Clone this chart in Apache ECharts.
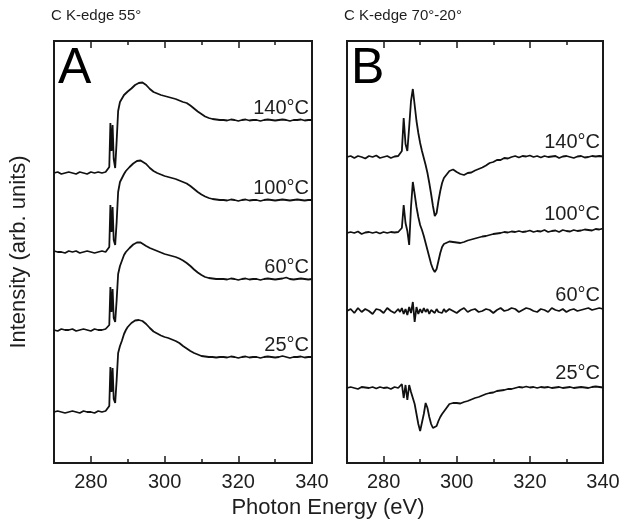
<!DOCTYPE html>
<html><head><meta charset="utf-8">
<script src="https://cdn.jsdelivr.net/npm/echarts@6/dist/echarts.min.js"></script>
<style>html,body{margin:0;padding:0;background:#fff}#c{width:623px;height:523px}</style>
</head><body><div id="c"></div>
<script>
// ---------- DATA ----------
const temps = ['140°C', '100°C', '60°C', '25°C'];
const panelTitles = ['C K-edge 55°', 'C K-edge 70°-20°'];
const panelLetters = ['A', 'B'];
const majorTicks = [280, 300, 320, 340];
const minorTicks = [290, 310, 330];

// Panel A (C K-edge 55°), photon energy (eV)
const energyA = [270,271,272,273,274,275,276,277,278,279,280,281,282,283,284,
  284.5,285.0,285.3,285.6,285.9,286.2,286.6,287.0,287.4,287.9,288.4,
  289,289.5,290,290.5,291,291.5,292,292.5,293,293.5,294,
  295,296,297,298,299,300,301,302,303,304,305,306,307,308,309,310,311,312,313,314,315,
  316,317,318,319,320,321,322,323,324,325,326,327,328,329,330,331,332,333,334,335,336,337,338,339,340];
// intensities relative to each spectrum's own pre-edge (arb. units)
const a140 = [0.0,0.1,-0.1,0.0,0.1,0.0,-0.1,0.1,0.0,-0.1,0.1,0.0,0.1,0.0,0.1,
  0.2,0.6,5.0,2.2,4.8,1.4,0.5,3.2,6.2,7.1,7.3,
  7.8,8.0,8.15,8.3,8.45,8.6,8.8,8.9,9.0,9.1,9.05,
  8.8,8.4,8.1,7.95,7.8,7.7,7.6,7.5,7.4,7.25,7.1,7.0,6.75,6.45,6.15,5.9,5.65,5.5,5.4,5.35,5.3,
  5.3,5.25,5.35,5.3,5.2,5.3,5.35,5.25,5.3,5.3,5.2,5.3,5.35,5.3,5.25,5.3,5.35,5.3,5.2,5.3,5.3,5.35,5.25,5.3,5.3];
const a100 = [0.1,0.0,0.0,-0.1,0.1,0.0,0.1,-0.1,0.0,0.1,0.0,-0.1,0.0,0.1,0.0,
  0.1,0.5,4.7,2.0,4.5,1.2,0.7,3.0,6.0,7.0,7.2,
  7.8,8.1,8.3,8.5,8.7,8.85,9.0,9.1,9.2,9.15,9.0,
  8.8,8.4,8.1,7.9,7.75,7.6,7.5,7.4,7.3,7.15,7.0,6.85,6.6,6.3,6.0,5.75,5.55,5.4,5.3,5.25,5.2,
  5.2,5.15,5.25,5.2,5.1,5.2,5.25,5.15,5.2,5.2,5.1,5.2,5.25,5.2,5.15,5.2,5.25,5.2,5.15,5.2,5.25,5.2,5.15,5.2,5.2];
const a60 = [0.0,-0.1,0.1,0.0,0.0,0.1,-0.1,0.0,0.1,0.0,-0.1,0.1,0.0,0.0,0.1,
  0.1,0.5,4.3,1.8,4.1,1.2,0.8,3.0,5.6,6.4,6.9,
  7.5,7.8,8.0,8.2,8.4,8.55,8.7,8.75,8.8,8.75,8.6,
  8.4,8.2,8.05,7.9,7.75,7.6,7.5,7.4,7.3,7.15,6.95,6.7,6.4,6.05,5.75,5.5,5.3,5.2,5.15,5.1,5.1,
  5.1,5.05,5.15,5.1,5.0,5.1,5.15,5.05,5.1,5.1,5.0,5.1,5.15,5.1,5.05,5.1,5.15,5.25,5.1,5.05,5.1,5.15,5.1,5.05,5.1];
const a25 = [0.0,0.1,0.0,-0.1,0.0,0.1,0.0,-0.1,0.1,0.0,0.0,-0.1,0.1,0.0,0.1,
  0.2,0.6,4.5,2.0,4.4,1.3,0.9,3.2,5.9,6.6,7.1,
  7.8,8.2,8.5,8.7,8.9,9.05,9.15,9.2,9.2,9.2,9.1,
  8.8,8.4,8.05,7.85,7.65,7.5,7.4,7.25,7.1,6.9,6.6,6.35,6.1,5.9,5.75,5.6,5.55,5.5,5.5,5.45,5.5,
  5.5,5.45,5.55,5.5,5.4,5.5,5.55,5.45,5.5,5.5,5.4,5.5,5.55,5.5,5.45,5.5,5.6,5.5,5.4,5.5,5.5,5.55,5.45,5.5,5.5];
const stackOffsetA = [29.0, 21.1, 13.3, 5.1];

// Panel B (C K-edge 70°-20° difference)
const energyB = [270,271,272,273,274,275,276,277,278,279,280,281,282,283,284,
  284.5,285.0,285.5,286.0,286.5,287.0,287.5,288.0,288.5,289,289.5,290,290.5,291,291.5,292,292.5,293,293.5,294,294.5,295,295.5,296,296.5,
  297,298,299,300,301,302,303,304,305,306,307,308,309,310,311,312,313,314,315,316,317,318,319,320,
  321,322,323,324,325,326,327,328,329,330,331,332,333,334,335,336,337,338,339,340];
const b140 = [0.0,0.1,-0.1,0.1,0.0,-0.15,0.1,0.0,0.15,-0.1,0.0,0.1,-0.1,0.05,0.1,
  0.2,0.6,3.9,1.3,0.6,3.0,5.6,6.8,5.2,3.6,2.4,1.4,0.6,-0.1,-0.8,-1.6,-2.6,-3.7,-4.9,-5.9,-5.6,-4.4,-3.4,-2.6,-2.1,
  -1.9,-1.4,-1.25,-1.5,-1.7,-1.8,-1.6,-1.55,-1.35,-1.2,-1.05,-0.85,-0.6,-0.5,-0.3,-0.3,-0.1,-0.15,0.0,0.1,-0.05,0.1,0.05,0.15,
  0.0,0.1,-0.05,0.1,0.0,0.05,0.1,-0.1,0.05,0.1,0.0,-0.1,0.05,0.1,-0.05,0.0,0.1,0.05,0.1,0.05];
const b100 = [0.0,0.1,0.0,0.15,-0.1,0.05,0.1,0.0,0.1,-0.05,0.1,0.0,0.1,0.05,0.1,
  0.1,0.5,2.8,1.0,0.2,-1.2,2.6,5.1,3.9,2.6,1.6,0.8,0.3,-0.3,-1.0,-1.7,-2.4,-3.1,-3.6,-3.9,-3.6,-2.8,-2.0,-1.4,-1.1,
  -0.95,-0.85,-0.9,-0.95,-1.0,-0.9,-0.75,-0.65,-0.55,-0.45,-0.35,-0.3,-0.2,-0.1,-0.05,0.0,0.1,0.05,0.15,0.1,0.2,0.1,0.15,0.25,
  0.1,0.2,0.15,0.3,0.1,0.2,0.25,0.1,0.3,0.2,0.15,0.3,0.2,0.25,0.35,0.3,0.25,0.4,0.35,0.45];
const b60 = [0.0,0.2,-0.2,0.3,-0.1,0.2,0.0,-0.3,0.2,0.1,-0.2,0.3,0.0,-0.2,0.2,
  -0.1,0.3,-0.3,0.2,-0.4,0.4,-0.2,0.9,-1.1,0.4,-0.3,0.2,-0.2,0.3,-0.1,0.2,-0.3,0.1,0.3,-0.2,0.2,-0.1,0.1,-0.2,0.2,
  -0.1,0.2,0.0,-0.2,0.1,0.3,-0.1,0.1,0.2,-0.1,0.0,0.2,0.1,-0.2,0.1,0.3,0.0,0.1,0.3,0.2,-0.1,0.1,0.3,0.2,
  0.0,-0.1,0.2,0.1,-0.1,0.3,0.1,0.0,0.2,-0.1,0.1,0.2,0.0,0.1,0.2,0.3,0.1,0.2,0.3,0.2];
const b25 = [0.0,0.1,0.0,-0.1,0.1,0.05,0.0,0.1,-0.05,0.1,0.0,0.05,-0.1,0.1,0.0,
  0.0,0.4,-1.0,0.3,-1.2,0.3,-0.4,-1.0,-1.6,-2.6,-3.6,-4.3,-4.4,-2.6,-1.5,-2.0,-2.9,-3.6,-4.0,-4.1,-3.8,-3.3,-2.9,-2.6,-2.4,
  -2.1,-1.6,-1.5,-1.5,-1.55,-1.4,-1.3,-1.15,-1.0,-0.9,-0.75,-0.6,-0.5,-0.45,-0.3,-0.25,-0.2,-0.1,-0.1,0.0,0.1,0.05,0.15,0.05,
  0.1,0.0,0.1,0.05,0.1,0.0,0.05,0.1,0.0,0.05,0.1,0.0,0.05,0.1,0.05,0.0,0.1,0.15,0.1,0.05];
const stackOffsetB = [30.6, 23.0, 15.2, 7.5];

// ---------- CHART ----------
const FONT = 'Liberation Sans, Arial, sans-serif';
const TXT = '#1e1e1e';
const LINE = '#111';
const chart = echarts.init(document.getElementById('c'), null, {renderer: 'canvas'});

const panels = [
  {energy: energyA, spectra: [a140, a100, a60, a25], offsets: stackOffsetA, labelDy: -12},
  {energy: energyB, spectra: [b140, b100, b60, b25], offsets: stackOffsetB, labelDy: -14}
];

const grids = [
  {left: 54, top: 41, width: 258, height: 422},
  {left: 347, top: 41, width: 256, height: 422}
].map(g => Object.assign(g, {show: true, borderColor: '#1a1a1a', borderWidth: 2, backgroundColor: 'transparent', containLabel: false}));

const xAxes = [], yAxes = [], series = [];
panels.forEach((p, g) => {
  const base = {gridIndex: g, type: 'value', min: 270, max: 340, splitLine: {show: false}, axisLine: {show: false}};
  const tickStyle = {color: '#1a1a1a', width: 1.5};
  xAxes.push(Object.assign({}, base, {position: 'bottom',
    axisTick: {inside: true, length: 7, customValues: majorTicks, lineStyle: tickStyle},
    axisLabel: {customValues: majorTicks, fontSize: 20, color: TXT, fontFamily: FONT, margin: 9}}));
  xAxes.push(Object.assign({}, base, {position: 'bottom',
    axisTick: {inside: true, length: 4, customValues: minorTicks, lineStyle: tickStyle},
    axisLabel: {show: false}}));
  xAxes.push(Object.assign({}, base, {position: 'top',
    axisTick: {inside: true, length: 7, customValues: majorTicks, lineStyle: tickStyle},
    axisLabel: {show: false}}));
  xAxes.push(Object.assign({}, base, {position: 'top',
    axisTick: {inside: true, length: 4, customValues: minorTicks, lineStyle: tickStyle},
    axisLabel: {show: false}}));
  yAxes.push({gridIndex: g, type: 'value', min: 0, max: 42.2, show: false});

  p.spectra.forEach((vals, k) => {
    const data = p.energy.map((e, i) => [e, vals[i] + p.offsets[k]]);
    series.push({
      type: 'line', xAxisIndex: g * 4, yAxisIndex: g, data: data,
      symbol: 'none', smooth: false, silent: true,
      lineStyle: {color: LINE, width: 1.8}
    });
    const last = data[data.length - 1];
    series.push({
      type: 'scatter', xAxisIndex: g * 4, yAxisIndex: g, silent: true,
      symbolSize: 0, itemStyle: {color: LINE, opacity: 1},
      data: [last],
      label: {show: true, position: 'left', distance: 3, offset: [0, p.labelDy], opacity: 1,
        formatter: temps[k], fontSize: 20, color: TXT, fontFamily: FONT}
    });
  });
});

const graphics = [];
panelTitles.forEach((t, g) => {
  graphics.push({type: 'text', left: grids[g].left - 3, top: 8,
    style: {text: t, fontSize: 15, fill: TXT, fontFamily: FONT}});
  graphics.push({type: 'text', left: grids[g].left + 4, top: 44,
    style: {text: panelLetters[g], fontSize: 50, fill: '#000', fontFamily: FONT}});
});
graphics.push({type: 'text', x: 328, y: 508,
  style: {text: 'Photon Energy (eV)', fontSize: 22, fill: TXT, fontFamily: FONT, textAlign: 'center', textVerticalAlign: 'middle'}});
graphics.push({type: 'text', x: 19, y: 252, rotation: Math.PI / 2,
  style: {text: 'Intensity (arb. units)', fontSize: 22, fill: TXT, fontFamily: FONT, textAlign: 'center', textVerticalAlign: 'middle'}});

chart.setOption({
  animation: false,
  backgroundColor: '#fff',
  grid: grids,
  xAxis: xAxes,
  yAxis: yAxes,
  series: series,
  graphic: graphics
});
</script>
</body></html>
